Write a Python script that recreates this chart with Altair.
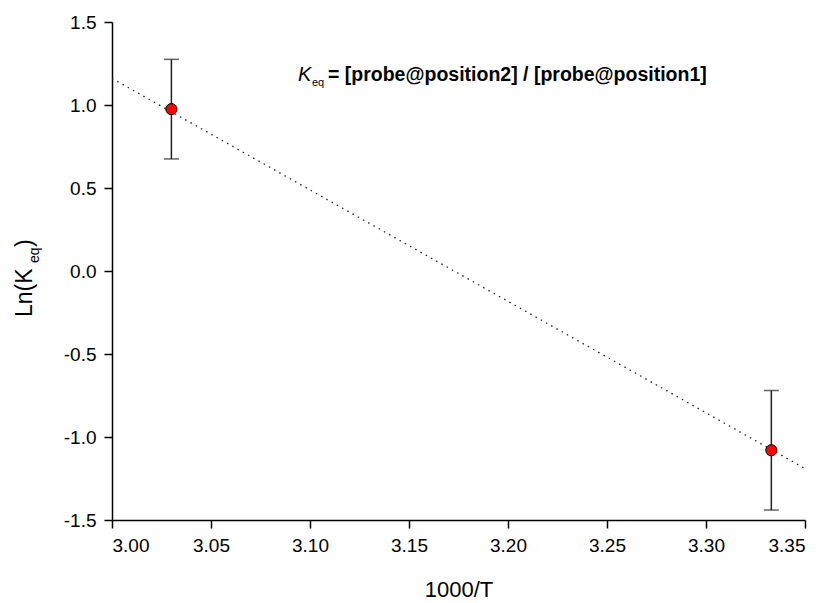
import altair as alt
import pandas as pd

# ---- data ----
inv_T = [3.030, 3.333]          # 1000/T
ln_keq = [0.975, -1.08]         # Ln(Keq)
err_lo = [0.675, -1.44]
err_hi = [1.275, -0.72]
fit_x = [3.00, 3.35]            # dotted linear fit
fit_y = [1.16, -1.19]
x_ticks = [3.00, 3.05, 3.10, 3.15, 3.20, 3.25, 3.30, 3.35]
y_ticks = [-1.5, -1.0, -0.5, 0.0, 0.5, 1.0, 1.5]

pts = pd.DataFrame({"x": inv_T, "y": ln_keq, "lo": err_lo, "hi": err_hi})
fit = pd.DataFrame({"x": fit_x, "y": fit_y})
one = pd.DataFrame({"k": [0]})

FONT = "Liberation Sans"
W, H = 693, 498

xs = alt.Scale(domain=[3.0, 3.35], nice=False, zero=False)
ys = alt.Scale(domain=[-1.5, 1.5], nice=False, zero=False)

xax = alt.Axis(values=x_ticks, format=".2f", title="1000/T", grid=False,
               titlePadding=24)
yax = alt.Axis(values=y_ticks, title=None, grid=False,
               labelExpr="replace(format(datum.value, '.1f'), '−', '-')")

line = alt.Chart(fit).mark_line(color="#222222", strokeDash=[1.5, 4.5],
                                strokeWidth=1.3).encode(
    x=alt.X("x:Q", scale=xs, axis=xax),
    y=alt.Y("y:Q", scale=ys, axis=yax),
)

bars = alt.Chart(pts).mark_rule(color="#222222", strokeWidth=1.5).encode(
    x=alt.X("x:Q", scale=xs), y=alt.Y("lo:Q", scale=ys), y2="hi:Q")

cap_lo = alt.Chart(pts).mark_tick(color="#222222", orient="horizontal",
                                  size=15, thickness=1.5).encode(
    x=alt.X("x:Q", scale=xs), y=alt.Y("lo:Q", scale=ys))
cap_hi = alt.Chart(pts).mark_tick(color="#222222", orient="horizontal",
                                  size=15, thickness=1.5).encode(
    x=alt.X("x:Q", scale=xs), y=alt.Y("hi:Q", scale=ys))

dots = alt.Chart(pts).mark_point(filled=True, fill="#ff0000", stroke="#000000",
                                 strokeWidth=1, size=125, opacity=1).encode(
    x=alt.X("x:Q", scale=xs), y=alt.Y("y:Q", scale=ys))


def txt(text, x, y, size, weight="normal", style="normal", angle=None):
    kw = dict(text=text, font=FONT, fontSize=size, fontWeight=weight,
              fontStyle=style, align="left", baseline="alphabetic",
              color="black")
    if angle is not None:
        kw["angle"] = angle
    return alt.Chart(one).mark_text(**kw).encode(x=alt.value(x), y=alt.value(y))


# annotation: K_eq = [probe@position2] / [probe@position1]
ann = [
    txt("K", 186, 59, 20, style="italic"),
    txt("eq", 200, 64, 11),
    txt("= [probe@position2] / [probe@position1]", 216, 59, 19.5, weight="bold"),
]

# y-axis title Ln(K_eq)
ytitle = [
    txt("Ln(K", -80, 295, 23, angle=270),
    txt("eq", -73, 241, 14, angle=270),
    txt(")", -80, 225, 23, angle=270),
]

chart = alt.layer(line, bars, cap_lo, cap_hi, dots, *ann, *ytitle).properties(
    width=W, height=H,
    autosize=alt.AutoSizeParams(type="none"),
    padding={"left": 112, "top": 22, "right": 23, "bottom": 83},
    background="white",
).configure_view(stroke=None).configure_axis(
    domainColor="black", domainWidth=1.5, tickColor="black", tickWidth=1.5,
    tickSize=8, labelFont=FONT, labelFontSize=19, labelColor="black",
    labelPadding=8, titleFont=FONT, titleFontSize=22, titleFontWeight="normal",
    titleColor="black",
)

chart.save("out.html", embed_options={"renderer": "svg", "actions": False})
